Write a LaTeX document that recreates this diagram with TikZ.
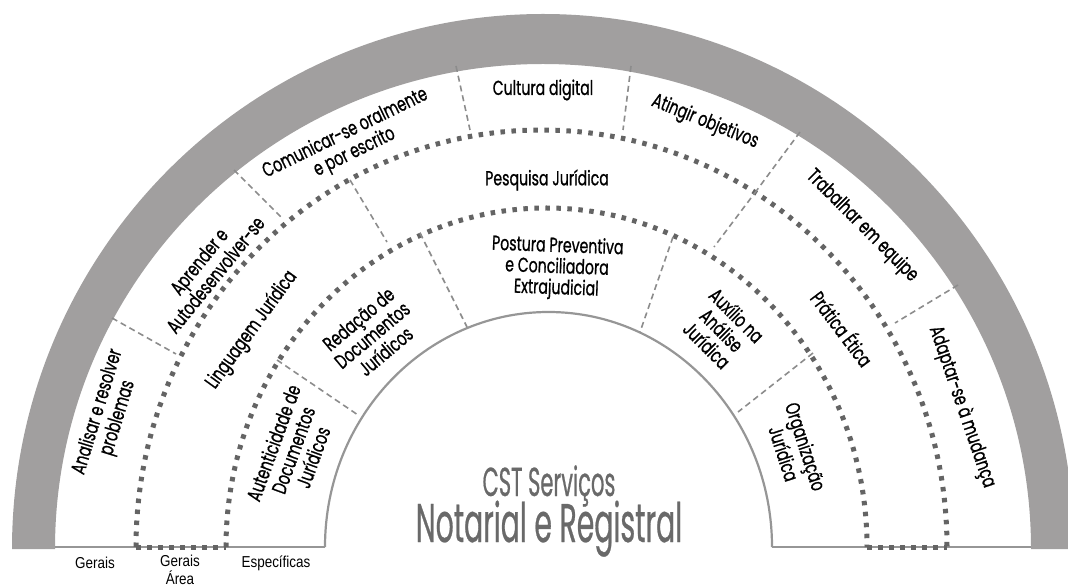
\documentclass[tikz,border=0pt]{standalone}
\usepackage{fontspec}
\setmainfont{Poppins}[FakeStretch=0.70, FakeBold=0.8]
\newfontfamily\titlefont{Poppins}[FakeStretch=0.52, FakeBold=0.5]
\newfontfamily\botfont{Liberation Sans}[FakeStretch=0.85]
\definecolor{bandgray}{RGB}{161,159,159}
\definecolor{dotgray}{RGB}{100,100,100}
\definecolor{dashgray}{RGB}{140,140,140}
\definecolor{arcgray}{RGB}{150,150,150}
\definecolor{titlegray}{RGB}{105,105,105}
\tikzset{
  ringdots/.style={draw=dotgray, line width=5*0.02cm, dash pattern=on 4.5*0.02cm off 6.5*0.02cm},
  divider/.style={draw=dashgray, line width=1.6*0.02cm, dash pattern=on 6*0.02cm off 4*0.02cm},
  solidarc/.style={draw=arcgray, line width=2.2*0.02cm},
  lab/.style={font=\fontsize{11.5}{12}\selectfont, align=center, inner sep=0pt, text=black},
  botlab/.style={font=\botfont\fontsize{9}{10}\selectfont, align=center, inner sep=0pt, text=black},
  title/.style={inner sep=0pt, anchor=base, text=titlegray},
}
\begin{document}
\begin{tikzpicture}[x=0.02cm,y=-0.02cm]
\useasboundingbox (0,0) rectangle (1068,587);
\clip (0,0) rectangle (1068,587);
% outer gray band
\fill[bandgray] (12,549) arc[start angle=180,end angle=360,x radius=531,y radius=535]
  -- (1031,549) arc[start angle=360,end angle=180,x radius=488,y radius=485] -- cycle;
% baseline
\draw[solidarc] (55,547) -- (325,547);
\draw[solidarc] (772,547) -- (1031,547);
% inner solid arc
\draw[solidarc] (325,547) arc[start angle=180,end angle=360,x radius=223.5,y radius=235];
% dotted ring boundaries
\draw[ringdots] (136,547) arc[start angle=180,end angle=360,x radius=405.5,y radius=417];
\draw[ringdots] (226,547) arc[start angle=180,end angle=360,x radius=320.5,y radius=339];
\draw[ringdots] (136,547) -- (226,547);
\draw[ringdots] (867,547) -- (947,547);
% divider coordinates
\coordinate (d1a) at (112,318); \coordinate (d1b) at (176,354);
\coordinate (d2a) at (234,170); \coordinate (d2b) at (282,218);
\coordinate (d3a) at (456,66);  \coordinate (d3b) at (470,130);
\coordinate (d4a) at (631,66);  \coordinate (d4b) at (623,130);
\coordinate (d5a) at (800,132); \coordinate (d5b) at (757,190);
\coordinate (d6a) at (958,285); \coordinate (d6b) at (895,323);
\coordinate (m1a) at (350,180); \coordinate (m1b) at (387,242);
\coordinate (m2a) at (757,190); \coordinate (m2b) at (714,247);
\coordinate (i1a) at (277,360); \coordinate (i1b) at (358,415);
\coordinate (i2a) at (420,233); \coordinate (i2b) at (467,327);
\coordinate (i3a) at (673,237); \coordinate (i3b) at (640,332);
\coordinate (i4a) at (813,353); \coordinate (i4b) at (738,412);
\foreach \n in {d1,d2,d3,d4,d5,d6,m1,m2,i1,i2,i3,i4}{\draw[divider] (\n a) -- (\n b);}
% outer ring labels
\node[lab, rotate=73] (ana) at (108,415) {Analisar e resolver\\problemas};
\node[lab, rotate=51] (apr) at (207,268) {Aprender e\\Autodesenvolver-se};
\node[lab, rotate=26] (com) at (350,143) {Comunicar-se oralmente\\e por escrito};
\node[lab] (cul) at (543,90) {Cultura digital};
\node[lab, rotate=-22] (ati) at (705,122) {Atingir objetivos};
\node[lab, rotate=-45] (tra) at (862,226) {Trabalhar em equipe};
\node[lab, rotate=-71] (ada) at (962,407) {Adaptar-se à mudança};
% middle ring labels
\node[lab, rotate=54] (lin) at (252,330) {Linguagem Jurídica};
\node[lab] (pes) at (547,180) {Pesquisa Jurídica};
\node[lab, rotate=-53] (pra) at (843,328) {Prática Ética};
% inner ring labels
\node[lab, rotate=70] (aut) at (293,450) {Autenticidade de\\Documentos\\Jurídicos};
\node[lab, rotate=40] (red) at (372,335) {Redação de\\Documentos\\Jurídicos};
\node[lab, rotate=-2] (pos) at (557,268) {Postura Preventiva\\e Conciliadora\\Extrajudicial};
\node[lab, rotate=-45] (aux) at (722,330) {Auxílio na\\Análise\\Jurídica};
\node[lab, rotate=-72] (org) at (795,450) {Organização\\Jurídica};
% centre title
\node[title, font=\titlefont\fontsize{23}{24}\selectfont] (cst) at (549,496) {CST Serviços};
\node[title, font=\titlefont\fontsize{31}{32}\selectfont] (nr) at (549,542) {Notarial e Registral};
% bottom labels
\node[botlab] (g1) at (95,563) {Gerais};
\node[botlab] (g2) at (180,570) {Gerais\\Área};
\node[botlab] (esp) at (276,563) {Específicas};
\end{tikzpicture}
\end{document}
